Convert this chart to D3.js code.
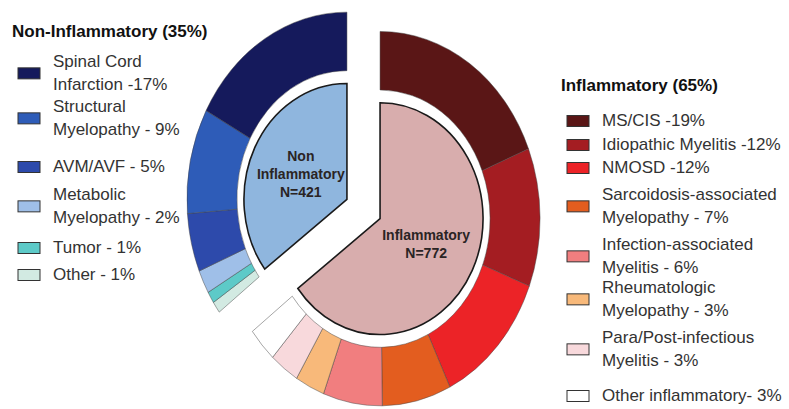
<!DOCTYPE html>
<html>
<head>
<meta charset="utf-8">
<script src="https://cdn.jsdelivr.net/npm/d3@7"></script>
<style>
body{margin:0;background:#fff;}
text{font-family:"Liberation Sans",Arial,sans-serif;}
</style>
</head>
<body>
<div id="root"></div>
<script>
// inner pie: the two groups
var groups=['Inflammatory','Non-Inflammatory'];
var groupN=[772,421];
var groupColors=['#d8adad','#8fb6de'];
var centerLabels=[['Inflammatory','N=772'],['Non','Inflammatory','N=421']];
var legendTitles=['Inflammatory (65%)','Non-Inflammatory (35%)'];

// outer ring, inflammatory (clockwise from 12 o'clock)
var inflamLabels=[['MS/CIS -19%'],['Idiopathic Myelitis -12%'],['NMOSD -12%'],
  ['Sarcoidosis-associated','Myelopathy - 7%'],['Infection-associated','Myelitis - 6%'],
  ['Rheumatologic','Myelopathy - 3%'],['Para/Post-infectious','Myelitis - 3%'],['Other inflammatory- 3%']];
var inflamPct=[19,12,12,7,6,3,3,3];
var inflamColors=['#5a1616','#a41d22','#ec2327','#e35d1f','#f17e7f','#f8b97a','#f8d9dc','#ffffff'];

// outer ring, non-inflammatory (counter-clockwise from 12 o'clock)
var nonLabels=[['Spinal Cord','Infarction -17%'],['Structural','Myelopathy - 9%'],['AVM/AVF - 5%'],
  ['Metabolic','Myelopathy - 2%'],['Tumor - 1%'],['Other - 1%']];
var nonPct=[17,9,5,2,1,1];
var nonColors=['#151a5c','#2e5cb8','#2d4aab','#9fbfe8','#5dcac8','#d2eae2'];

var W=789,H=409;
var cx0=363.5,cy0=209,explode=18.5;
var sRing=1.17,sPie=1.125;
var rOut=160,rIn=110,rPie=103;

var svg=d3.select('#root').append('svg')
  .attr('width',W).attr('height',H);

var pie=d3.pie().sort(null);
var slices=pie(groupN);

var ringArc=d3.arc().innerRadius(rIn).outerRadius(rOut);
var pieArc=d3.arc().innerRadius(0).outerRadius(rPie);

var ringSets=[
  {pct:inflamPct,colors:inflamColors},
  {pct:nonPct.slice().reverse(),colors:nonColors.slice().reverse()}
];

slices.forEach(function(sl,i){
  var mid=(sl.startAngle+sl.endAngle)/2;
  var cx=cx0+explode*Math.sin(mid);
  var cy=cy0-explode*Math.cos(mid)*sRing;

  var ringG=svg.append('g')
    .attr('transform','translate('+cx+','+cy+') scale(1,'+sRing+')');
  var sub=d3.pie().sort(null).startAngle(sl.startAngle).endAngle(sl.endAngle)(ringSets[i].pct);
  ringG.selectAll('path').data(sub).enter().append('path')
    .attr('d',ringArc)
    .attr('fill',function(d,j){return ringSets[i].colors[j]})
    .attr('stroke','#444').attr('stroke-opacity',0.6)
    .attr('stroke-width',0.8)
    .attr('vector-effect','non-scaling-stroke');

  var pieG=svg.append('g')
    .attr('transform','translate('+cx+','+cy+') scale(1,'+sPie+')');
  pieG.append('path')
    .attr('d',pieArc(sl))
    .attr('fill',groupColors[i])
    .attr('stroke','#1a1a1a').attr('stroke-width',1.6)
    .attr('vector-effect','non-scaling-stroke');

  var c=pieArc.centroid(sl);
  var lines=centerLabels[i];
  var lx=cx+c[0], ly=cy+c[1]*sPie;
  svg.append('text')
    .attr('x',lx).attr('y',ly-(lines.length-1)*18/2+5)
    .attr('text-anchor','middle')
    .attr('font-size',14).attr('font-weight','bold').attr('fill','#2a2424')
    .selectAll('tspan').data(lines).enter().append('tspan')
    .attr('x',lx).attr('dy',function(d,k){return k?18:0})
    .text(function(d){return d});
});

// legends
var lineH=22.7;
function legend(x0,titleY,title,firstBase,labels,colors){
  svg.append('text').attr('x',x0-41).attr('y',titleY)
    .attr('font-size',17).attr('font-weight','bold').attr('fill','#111')
    .text(title);
  labels.forEach(function(lines,i){
    var b=firstBase[i];
    var last=b+(lines.length-1)*lineH;
    svg.append('rect')
      .attr('x',x0-35).attr('y',(b+last)/2-5-5.5)
      .attr('width',22).attr('height',11)
      .attr('fill',colors[i]).attr('stroke','#333').attr('stroke-width',1);
    var t=svg.append('text').attr('font-size',17).attr('fill','#333');
    lines.forEach(function(s,k){
      t.append('tspan').attr('x',x0).attr('y',b+k*lineH).text(s);
    });
  });
}
legend(53,37,legendTitles[1],[67,112,172,200,253,280],nonLabels,nonColors);
legend(602,91,legendTitles[0],[126,150,173,200,250,293,343,401],inflamLabels,inflamColors);
</script>
</body>
</html>
